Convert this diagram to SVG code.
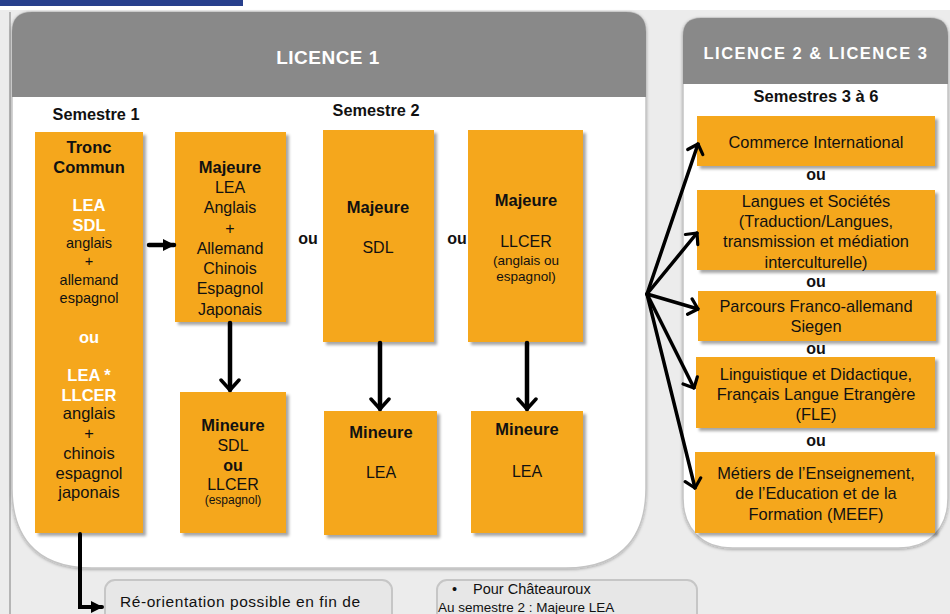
<svg xmlns="http://www.w3.org/2000/svg" width="950" height="614" viewBox="0 0 950 614">
<defs>
<style>
text{font-family:"Liberation Sans",Arial,sans-serif;fill:#111;text-anchor:middle}
.b{font-weight:bold}
.w{fill:#fff;font-weight:bold}
.box{fill:#F5A71E;filter:url(#sh)}
.hdr{fill:#898989}
.t14{font-size:14.5px}
.t16{font-size:16px}
.r16{font-size:16.4px}
.t165{font-size:16.5px}
.conn{stroke:#000;fill:none;stroke-linecap:round}
.note{fill:#e7e7e7;stroke:#c6c6c6;stroke-width:2}
</style>
<filter id="sh" x="-10%" y="-10%" width="130%" height="130%">
<feDropShadow dx="3" dy="3" stdDeviation="1.8" flood-color="#000" flood-opacity="0.35"/>
</filter>
<filter id="psh" x="-5%" y="-5%" width="110%" height="110%">
<feDropShadow dx="0" dy="1" stdDeviation="1.5" flood-color="#000" flood-opacity="0.3"/>
</filter>
<marker id="chev" viewBox="0 0 14 22" refX="12" refY="11" markerWidth="14" markerHeight="22" orient="auto" markerUnits="userSpaceOnUse">
<path d="M2,2 L12,11 L2,20" fill="none" stroke="#000" stroke-width="3.5" stroke-linecap="round" stroke-linejoin="round"/>
</marker>
<marker id="chevs" viewBox="0 0 12 20" refX="10.5" refY="10" markerWidth="12" markerHeight="20" orient="auto" markerUnits="userSpaceOnUse">
<path d="M2,2 L10.5,10 L2,18" fill="none" stroke="#000" stroke-width="3.2" stroke-linecap="round" stroke-linejoin="round"/>
</marker>
<marker id="tri" viewBox="0 0 12 12" refX="11" refY="6" markerWidth="12" markerHeight="12" orient="auto" markerUnits="userSpaceOnUse">
<path d="M0,0 L12,6 L0,12 Z" fill="#000"/>
</marker>
<clipPath id="c1"><path d="M12,32 Q12,12 32,12 L626,12 Q646,12 646,32 L646,488 C646,532 626,568 566,568 L92,568 C32,568 12,532 12,488 Z"/></clipPath>
<clipPath id="c2"><path d="M683,36 Q683,18 701,18 L930,18 Q948,18 948,36 L948,498 C948,528 930,548 898,548 L733,548 C701,548 683,528 683,498 Z"/></clipPath>
</defs>

<rect x="0" y="0" width="950" height="614" fill="#ececec"/>
<rect x="0" y="0" width="950" height="10" fill="#ffffff"/>
<rect x="0" y="0" width="243" height="6" fill="#273f8c"/>
<line x1="10" y1="12" x2="10" y2="614" stroke="#b5b5b5" stroke-width="2"/>

<g id="panel-licence1">
<path d="M12,32 Q12,12 32,12 L626,12 Q646,12 646,32 L646,488 C646,532 626,568 566,568 L92,568 C32,568 12,532 12,488 Z" fill="#fff" stroke="#c4c4c4" stroke-width="1.5" filter="url(#psh)"/>
<rect x="12" y="12" width="634" height="85" class="hdr" clip-path="url(#c1)"/>
<text x="328" y="64" class="w" style="font-size:19px;letter-spacing:0.5px">LICENCE 1</text>
<text x="96" y="120" class="b" style="font-size:16.3px">Semestre 1</text>
<text x="376" y="116" class="b" style="font-size:16.3px">Semestre 2</text>
<text x="308" y="244" class="b t16">ou</text>
<text x="457" y="244" class="b t16">ou</text>
</g>

<g id="panel-licence23">
<path d="M683,36 Q683,18 701,18 L930,18 Q948,18 948,36 L948,498 C948,528 930,548 898,548 L733,548 C701,548 683,528 683,498 Z" fill="#fff" stroke="#c4c4c4" stroke-width="1.5" filter="url(#psh)"/>
<rect x="683" y="18" width="265" height="66" class="hdr" clip-path="url(#c2)"/>
<text x="816" y="59" class="w" style="font-size:16.5px;letter-spacing:1.5px">LICENCE 2 &amp; LICENCE 3</text>
<text x="816" y="102" class="b" style="font-size:16.5px">Semestres 3 à 6</text>
<text x="816" y="180" class="b t16">ou</text>
<text x="816" y="287" class="b t16">ou</text>
<text x="816" y="354" class="b t16">ou</text>
<text x="816" y="446" class="b t16">ou</text>
</g>

<g id="tronc-commun">
<rect x="35" y="132" width="108" height="401" class="box"/>
<text x="89" y="153" class="b t165">Tronc</text>
<text x="89" y="173" class="b t165">Commun</text>
<text x="89" y="211" class="w t165">LEA</text>
<text x="89" y="231" class="w t165">SDL</text>
<text x="89" y="248" class="t14">anglais</text>
<text x="89" y="266" class="t14">+</text>
<text x="89" y="285" class="t14">allemand</text>
<text x="89" y="303" class="t14">espagnol</text>
<text x="89" y="343" class="w t165">ou</text>
<text x="89" y="381" class="w t165">LEA *</text>
<text x="89" y="401" class="w t165">LLCER</text>
<text x="89" y="419" class="t165">anglais</text>
<text x="89" y="439" class="t165">+</text>
<text x="89" y="459" class="t165">chinois</text>
<text x="89" y="479" class="t165">espagnol</text>
<text x="89" y="498" class="t165">japonais</text>
</g>

<g id="majeure-lea">
<rect x="175" y="132" width="111" height="190" class="box"/>
<text x="230" y="173" class="b t165">Majeure</text>
<text x="230" y="193" class="t16">LEA</text>
<text x="230" y="213" class="t16">Anglais</text>
<text x="230" y="234" class="t16">+</text>
<text x="230" y="254" class="t16">Allemand</text>
<text x="230" y="274" class="t16">Chinois</text>
<text x="230" y="294" class="t16">Espagnol</text>
<text x="230" y="315" class="t16">Japonais</text>
</g>

<g id="mineure-sdl-llcer">
<rect x="180" y="392" width="106" height="141" class="box"/>
<text x="233" y="431" class="b t165">Mineure</text>
<text x="233" y="451" class="t16">SDL</text>
<text x="233" y="471" class="b t16">ou</text>
<text x="233" y="490" class="t16">LLCER</text>
<text x="233" y="504" style="font-size:12px">(espagnol)</text>
</g>

<g id="majeure-sdl">
<rect x="323" y="130" width="111" height="212" class="box"/>
<text x="378" y="213" class="b t165">Majeure</text>
<text x="378" y="253" class="t16">SDL</text>
</g>

<g id="majeure-llcer">
<rect x="468" y="130" width="115" height="212" class="box"/>
<text x="526" y="206" class="b t165">Majeure</text>
<text x="526" y="247" class="t16">LLCER</text>
<text x="526" y="265" style="font-size:13.5px">(anglais ou</text>
<text x="526" y="281" style="font-size:13.5px">espagnol)</text>
</g>

<g id="mineure-lea-1">
<rect x="324" y="411" width="113" height="124" class="box"/>
<text x="381" y="438" class="b t165">Mineure</text>
<text x="381" y="478" class="t16">LEA</text>
</g>

<g id="mineure-lea-2">
<rect x="471" y="411" width="112" height="122" class="box"/>
<text x="527" y="435" class="b t165">Mineure</text>
<text x="527" y="477" class="t16">LEA</text>
</g>

<g id="commerce-international">
<rect x="697" y="116" width="238" height="50" class="box"/>
<text x="816" y="148" class="r16">Commerce  International</text>
</g>

<g id="langues-societes">
<rect x="697" y="190" width="238" height="80" class="box"/>
<text x="816" y="207" class="r16">Langues et Sociétés</text>
<text x="816" y="227" class="r16">(Traduction/Langues,</text>
<text x="816" y="247" class="r16">transmission  et médiation</text>
<text x="816" y="268" class="r16">interculturelle)</text>
</g>

<g id="franco-allemand">
<rect x="698" y="291" width="238" height="50" class="box"/>
<text x="816" y="312" class="r16">Parcours Franco-allemand</text>
<text x="816" y="332" class="r16">Siegen</text>
</g>

<g id="linguistique-fle">
<rect x="696" y="357" width="239" height="71" class="box"/>
<text x="816" y="380" class="r16">Linguistique et Didactique,</text>
<text x="816" y="400" class="r16">Français Langue Etrangère</text>
<text x="816" y="420" class="r16">(FLE)</text>
</g>

<g id="meef">
<rect x="695" y="452" width="240" height="81" class="box"/>
<text x="816" y="479" class="r16">Métiers de l’Enseignement,</text>
<text x="816" y="499" class="r16">de l’Education et de la</text>
<text x="816" y="520" class="r16">Formation (MEEF)</text>
</g>

<g id="note-reorientation">
<rect x="105" y="580" width="287" height="50" rx="10" class="note"/>
<text x="120" y="607" style="font-size:15.5px;text-anchor:start" textLength="240" lengthAdjust="spacing">Ré-orientation possible en fin de</text>
</g>

<g id="note-chateauroux">
<rect x="437" y="580" width="260" height="50" rx="10" class="note"/>
<text x="452" y="594" style="font-size:14.5px;text-anchor:start">•</text>
<text x="473" y="594" style="font-size:14.5px;text-anchor:start">Pour Châteauroux</text>
<text x="438" y="611.5" style="font-size:13.5px;text-anchor:start">Au semestre  2 : Majeure LEA</text>
</g>

<g id="connectors">
<line x1="149" y1="245" x2="174" y2="245" class="conn" stroke-width="4.5" marker-end="url(#tri)"/>
<line x1="230" y1="323" x2="230" y2="390" class="conn" stroke-width="4.5" marker-end="url(#chev)"/>
<line x1="380" y1="343" x2="380" y2="409" class="conn" stroke-width="4.5" marker-end="url(#chev)"/>
<line x1="527" y1="343" x2="527" y2="409" class="conn" stroke-width="4.5" marker-end="url(#chev)"/>
<polyline points="80,534 80,607 102,607" class="conn" stroke-width="4" stroke-linecap="butt" marker-end="url(#tri)"/>
<line x1="647" y1="294" x2="698" y2="144" class="conn" stroke-width="3.5" marker-end="url(#chevs)"/>
<line x1="647" y1="294" x2="697" y2="233" class="conn" stroke-width="3.5" marker-end="url(#chevs)"/>
<line x1="647" y1="294" x2="698" y2="309" class="conn" stroke-width="3.5" marker-end="url(#chevs)"/>
<line x1="647" y1="294" x2="694" y2="388" class="conn" stroke-width="3.5" marker-end="url(#chevs)"/>
<line x1="647" y1="294" x2="695" y2="488" class="conn" stroke-width="3.5" marker-end="url(#chevs)"/>
</g>
</svg>
